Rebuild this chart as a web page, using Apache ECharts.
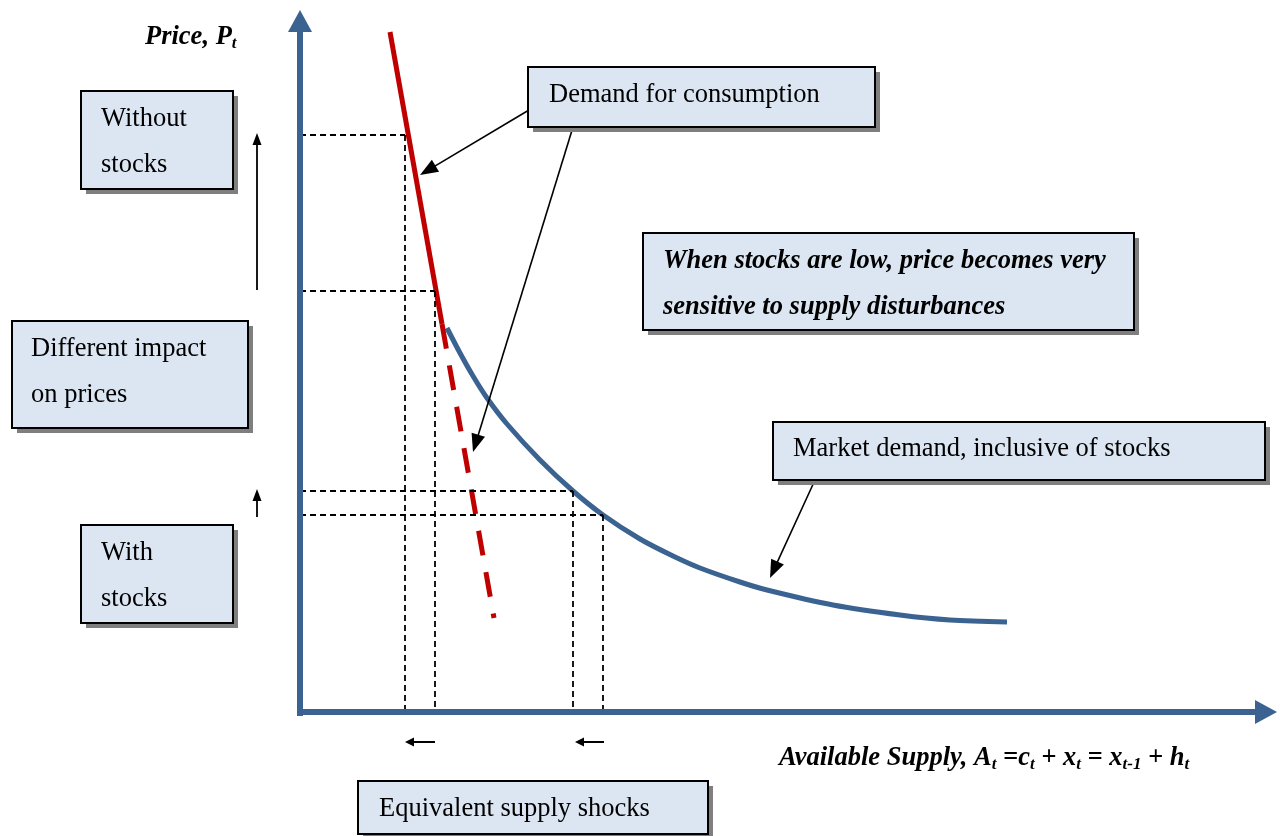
<!DOCTYPE html>
<html><head><meta charset="utf-8">
<script src="https://cdn.jsdelivr.net/npm/echarts@6/dist/echarts.min.js"></script>
<style>html,body{margin:0;padding:0;background:#fff}#c{width:1280px;height:836px}</style>
</head><body><div id="c"></div>
<script>
// Diagram units: x = available supply, y = price (origin at the axes corner)
const marketDemand = [[147,384],[160,359],[173,336],[187,314],[207,288],[240,252],[273,221],[303,197],[340,173],[373,156],[400,144],[440,130],[467,122],[533,107],[600,97],[650,92],[707,90]];
const consumptionSolid = [[90,680],[142,388]];
const consumptionDashed = [[142,388],[194,94]];
const axisLines = [[[-3,0],[977,0]], [[0,-4],[0,702]]];
const guideLines = [
  [[0,577],[105,577]], [[0,421],[135,421]], [[0,221],[273,221]], [[0,197],[303,197]],
  [[105,577],[105,0]], [[135,421],[135,0]], [[273,221],[273,0]], [[303,197],[303,0]]
];
const shockArrows = [[[135,-30],[105,-30]], [[304,-30],[275,-30]]];
const priceArrows = [[[-43,422],[-43,579]], [[-43,195],[-43,223]]];
const calloutArrows = [[[229,602],[120,537]], [[273,585],[173,260]], [[515,232],[470,134]]];

const FONT = '"Liberation Serif","Times New Roman",serif';
const BLUE = '#3b6391', RED = '#c00000';

function trim(seg, d) {
  const [a, b] = seg; const dx = b[0]-a[0], dy = b[1]-a[1]; const L = Math.hypot(dx, dy);
  return [a, [b[0]-dx/L*d, b[1]-dy/L*d]];
}
function lineSeries(name, segs, color, width, symSize, dash) {
  const h = symSize ? symSize[1] : 0;
  return {
    type: 'line', name, data: [], silent: true,
    markLine: {
      silent: true, animation: false,
      symbol: symSize ? ['none','triangle'] : ['none','none'],
      symbolSize: symSize || 0,
      label: {show: false}, emphasis: {disabled: true},
      lineStyle: {color, width, type: dash || 'solid', opacity: 1},
      data: segs.map(s => { const t = symSize ? trim(s, h/2) : s; return [{coord: t[0]}, {coord: t[1]}]; })
    }
  };
}

const boxes = [
  [81,91,152,98], [12,321,236,107], [81,525,152,98], [528,67,347,60],
  [643,233,491,97], [773,422,492,58], [358,781,350,53]
];
const texts = [
  ['Without',101,118,false], ['stocks',101,164,false],
  ['Different impact',31,348,false], ['on prices',31,394,false],
  ['With',101,552,false], ['stocks',101,598,false],
  ['Demand for consumption',549,94,false],
  ['When stocks are low, price becomes very',663,260,true],
  ['sensitive to supply disturbances',663,306,true],
  ['Market demand, inclusive of stocks',793,448,false],
  ['Equivalent supply shocks',379,808,false]
];
const graphic = [];
boxes.forEach(b => {
  graphic.push({type:'rect', silent:true, shape:{x:b[0]+5,y:b[1]+5,width:b[2],height:b[3]}, style:{fill:'#7f7f7f'}, z:10});
  graphic.push({type:'rect', silent:true, shape:{x:b[0],y:b[1],width:b[2],height:b[3]}, style:{fill:'#dce6f2', stroke:'#000', lineWidth:2}, z:11});
});
texts.forEach(t => {
  graphic.push({type:'text', silent:true, z:12, style:{text:t[0], x:t[1], y:t[2]+1, fill:'#000', fontFamily:FONT, fontSize:26.5,
    fontWeight: t[3]?'bold':'normal', fontStyle: t[3]?'italic':'normal', verticalAlign:'middle', align:'left'}});
});
const rich = {s:{fontSize:17, fontFamily:FONT, fontWeight:'bold', fontStyle:'italic', padding:[14,0,0,0], fill:'#000'}};
graphic.push({type:'text', silent:true, z:12, style:{text:'Price, P{s|t}', x:145, y:37, fill:'#000', fontFamily:FONT, fontSize:26.5, fontWeight:'bold', fontStyle:'italic', verticalAlign:'middle', rich}});
graphic.push({type:'text', silent:true, z:12, style:{text:'Available Supply, A{s|t} =c{s|t} + x{s|t} = x{s|t-1} + h{s|t}', x:779, y:758, fill:'#000', fontFamily:FONT, fontSize:26.5, fontWeight:'bold', fontStyle:'italic', verticalAlign:'middle', rich}});

const chart = echarts.init(document.getElementById('c'), null, {renderer:'canvas'});
chart.setOption({
  animation: false,
  backgroundColor: '#fff',
  grid: {left:0, right:0, top:0, bottom:0},
  xAxis: {type:'value', min:-300, max:980, show:false},
  yAxis: {type:'value', min:-124, max:712, show:false},
  series: [
    lineSeries('guides', guideLines, '#000', 1.8, null, [6,4]),
    {type:'line', name:'Market demand', data: marketDemand, smooth: 0.3, showSymbol:false, silent:true, clip:false,
      lineStyle:{color:BLUE, width:5}, z:3},
    {type:'line', name:'Demand for consumption', data: consumptionSolid, showSymbol:false, silent:true, clip:false,
      lineStyle:{color:RED, width:5}, z:4},
    {type:'line', name:'Demand dashed', data: consumptionDashed, showSymbol:false, silent:true, clip:false,
      lineStyle:{color:RED, width:5, type:[25,17]}, z:4},
    lineSeries('axes', axisLines, BLUE, 6, [24,22]),
    lineSeries('shocks', shockArrows, '#000', 2, [9,9]),
    lineSeries('prices', priceArrows, '#000', 1.8, [9,12]),
    lineSeries('callouts', calloutArrows, '#000', 1.6, [14,18])
  ],
  graphic
});
</script></body></html>
